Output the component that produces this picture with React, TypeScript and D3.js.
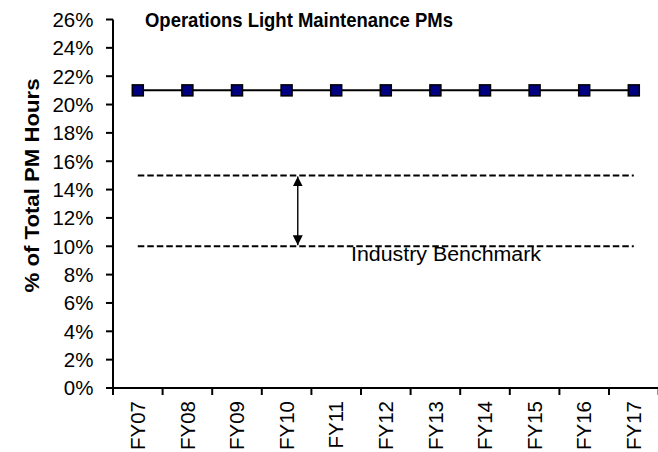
import React from "react";
import * as d3 from "d3";

const categories = ["FY07", "FY08", "FY09", "FY10", "FY11", "FY12", "FY13", "FY14", "FY15", "FY16", "FY17"];
const seriesValues = [21, 21, 21, 21, 21, 21, 21, 21, 21, 21, 21];
const yTicks = [0, 2, 4, 6, 8, 10, 12, 14, 16, 18, 20, 22, 24, 26];
const benchmarkLow = 10;
const benchmarkHigh = 15;
const titleText = "Operations Light Maintenance PMs";
const yAxisTitle = "% of Total PM Hours";
const benchmarkLabel = "Industry Benchmark";

const W = 658;
const H = 452;
const left = 113;
const right = 658.6;
const top = 19.5;
const bottom = 388;
const font = "Arial, 'Liberation Sans', Helvetica, sans-serif";

export default function App() {
  const x = d3.scaleBand<string>().domain(categories).range([left, right]).padding(0);
  const y = d3.scaleLinear().domain([0, 26]).range([bottom, top]);
  const cx = (c: string) => (x(c) as number) + x.bandwidth() / 2;
  const line = d3
    .line<number>()
    .x((_, i) => cx(categories[i]))
    .y((d) => y(d));
  const boundaries = categories.map((c) => x(c) as number).concat([right]);
  const firstC = cx(categories[0]);
  const lastC = cx(categories[categories.length - 1]);
  const arrowX = cx(categories[3]) + x.bandwidth() * 0.225;
  const ms = 11;

  return (
    <svg width={W} height={H} style={{ position: "absolute", left: 0, top: 0, background: "#fff" }}>
      <defs>
        <marker id="ah" viewBox="0 0 10 10" refX="10" refY="5" markerWidth="10" markerHeight="10" markerUnits="userSpaceOnUse" orient="auto-start-reverse">
          <path d="M0,0 L10,5 L0,10 Z" fill="#000" />
        </marker>
      </defs>
      <rect x={0} y={0} width={W} height={H} fill="#fff" />
      {/* title */}
      <text x={145} y={26.5} textLength={308} lengthAdjust="spacingAndGlyphs" fontFamily={font} fontWeight="bold" fontSize={21} fill="#000">
        {titleText}
      </text>
      {/* y axis title */}
      <text
        transform={`translate(32,${(78 + 293) / 2}) rotate(-90)`}
        textAnchor="middle"
        dy="0.35em"
        fontFamily={font}
        fontWeight="bold"
        fontSize={21}
        textLength={214}
        lengthAdjust="spacingAndGlyphs"
        fill="#000"
      >
        {yAxisTitle}
      </text>
      {/* benchmark dashed lines */}
      {[benchmarkHigh, benchmarkLow].map((v) => (
        <line key={v} x1={firstC} x2={lastC} y1={y(v)} y2={y(v)} stroke="#000" strokeWidth={2} strokeDasharray="6.5,3" />
      ))}
      <line x1={arrowX} x2={arrowX} y1={y(benchmarkHigh) + 1} y2={y(benchmarkLow) - 1} stroke="#000" strokeWidth={1.4} markerStart="url(#ah)" markerEnd="url(#ah)" />
      <text x={351} y={261} textLength={190} lengthAdjust="spacingAndGlyphs" fontFamily={font} fontSize={20} fill="#000">
        {benchmarkLabel}
      </text>
      {/* y axis */}
      <line x1={left} x2={left} y1={top} y2={bottom} stroke="#000" strokeWidth={2} />
      {yTicks.map((t) => (
        <g key={t}>
          <line x1={left - 7} x2={left} y1={y(t)} y2={y(t)} stroke="#000" strokeWidth={2} />
          <text x={93.5} y={y(t)} dy="0.36em" textAnchor="end" fontFamily={font} fontSize={20.5} fill="#000">
            {t + "%"}
          </text>
        </g>
      ))}
      {/* x axis */}
      <line x1={left} x2={right} y1={bottom} y2={bottom} stroke="#000" strokeWidth={2} />
      {boundaries.map((b, i) => (
        <line key={i} x1={b} x2={b} y1={bottom} y2={bottom + 7} stroke="#000" strokeWidth={2} />
      ))}
      {categories.map((c) => (
        <text
          key={c}
          transform={`translate(${cx(c)},401) rotate(-90)`}
          dy="0.35em"
          textAnchor="end"
          fontFamily={font}
          fontSize={20.5}
          fill="#000"
        >
          {c}
        </text>
      ))}
      {/* series */}
      <path d={line(seriesValues) || ""} fill="none" stroke="#000" strokeWidth={2} />
      {seriesValues.map((v, i) => (
        <rect
          key={i}
          x={cx(categories[i]) - ms / 2}
          y={y(v) - ms / 2}
          width={ms}
          height={ms}
          fill="#000080"
          stroke="#000"
          strokeWidth={1.5}
        />
      ))}
    </svg>
  );
}
